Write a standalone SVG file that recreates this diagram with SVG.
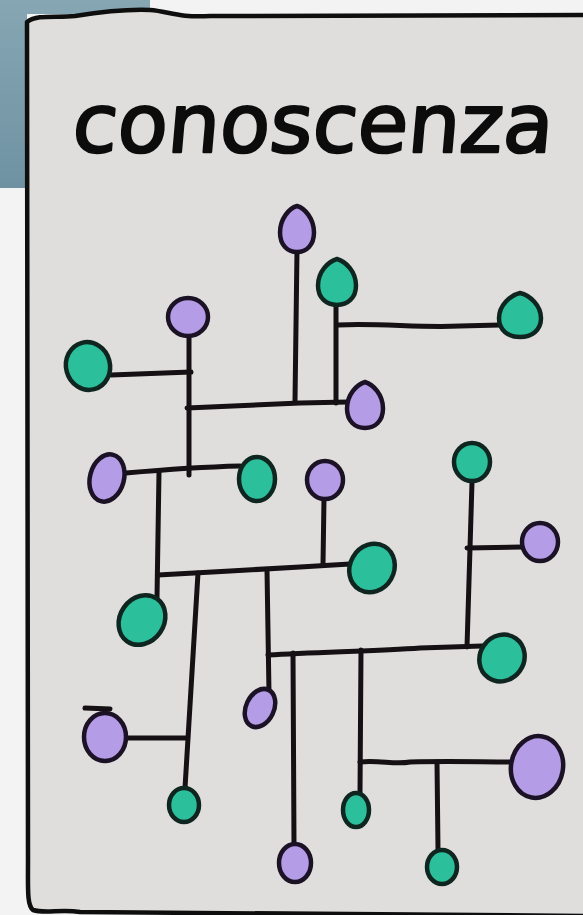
<svg xmlns="http://www.w3.org/2000/svg" width="583" height="915" viewBox="0 0 583 915">
<defs>
<style>
.wire{fill:none;stroke:#141014;stroke-width:5;stroke-linecap:round;stroke-linejoin:round}
.p{fill:#b59ce6;stroke:#1c1226;stroke-width:4.5}
.t{fill:#2bbf9b;stroke:#0f2620;stroke-width:4.5}
.title{font-family:"DejaVu Sans","Liberation Sans",sans-serif;font-size:82px;fill:#0c0c0c;stroke:#0c0c0c;stroke-width:2.4;stroke-linejoin:round}
</style>
<linearGradient id="bg" x1="0" y1="0" x2="0" y2="1">
<stop offset="0" stop-color="#86a6b3"/>
<stop offset="1" stop-color="#6f92a2"/>
</linearGradient>
</defs>
<rect x="0" y="0" width="583" height="915" fill="#f3f3f3"/>
<path d="M0,0 L150,0 L150,14 L27,14 L27,188 L0,188 Z" fill="url(#bg)"/>
<g id="card">
<path d="M27,22 C38,14 55,18 75,16 C100,12 125,9 150,10 C168,11 178,18 210,16 L590,15 L590,916 L80,912 C60,909 45,914 33,910 C27,905 28,890 28,860 L27,22 Z" fill="#e0dedc" stroke="#0e0e0e" stroke-width="4.5" stroke-linejoin="round"/>
</g>
<g id="title">
<text class="title" x="84" y="152" transform="skewX(-5)">conoscenza</text>
</g>
<g id="connectors">
<path class="wire" d="M297,250 L295,401"/>
<path class="wire" d="M336,304 L336,403"/>
<path class="wire" d="M338,325 C380,323 420,328 460,326 L500,325"/>
<path class="wire" d="M187,408 C230,406 270,404 300,403 L348,402"/>
<path class="wire" d="M189,338 L189,475"/>
<path class="wire" d="M111,375 L191,372"/>
<path class="wire" d="M126,473 C160,470 200,467 240,466"/>
<path class="wire" d="M159,472 L157,598"/>
<path class="wire" d="M158,575 C200,573 260,569 300,567 L350,564"/>
<path class="wire" d="M324,498 L323,565"/>
<path class="wire" d="M198,573 L185,788"/>
<path class="wire" d="M128,738 L187,738"/>
<path class="wire" d="M85,708 L110,709"/>
<path class="wire" d="M267,570 L269,693"/>
<path class="wire" d="M268,655 C320,652 380,651 420,648 L482,646"/>
<path class="wire" d="M293,653 L294,844"/>
<path class="wire" d="M361,650 L360,794"/>
<path class="wire" d="M360,762 C380,760 395,765 410,762 C450,761 480,762 512,762"/>
<path class="wire" d="M437,762 L438,849"/>
<path class="wire" d="M472,482 L467,647"/>
<path class="wire" d="M467,548 L522,547"/>
</g>
<g id="p1"><path class="p" d="M297,206 C304.7,208.1 314,218.7 314,232.5 C314,245.1 306.4,252 297,252 C287.6,252 280,245.1 280,232.5 C280,218.7 289.3,208.1 297,206Z"/></g>
<g id="t1"><path class="t" d="M337,259 C345.6,261.3 356,271.7 356,285.5 C356,298.1 347.5,305 337,305 C326.5,305 318,298.1 318,285.5 C318,271.7 328.4,261.3 337,259Z"/></g>
<g id="t2"><path class="t" d="M520,293 C529.5,295.2 541,305.1 541,318.3 C541,330.4 531.6,337 520,337 C508.4,337 499,330.4 499,318.3 C499,305.1 510.5,295.2 520,293Z"/></g>
<g id="p2"><path class="p" d="M365,382 C373.1,384.3 383,394.7 383,408.5 C383,421.1 374.9,428 365,428 C355.1,428 347,421.1 347,408.5 C347,394.7 356.9,384.3 365,382Z"/></g>
<g id="p3"><ellipse class="p" cx="188" cy="317" rx="20" ry="19"/></g>
<g id="t3"><ellipse class="t" cx="88" cy="366" rx="22" ry="24" transform="rotate(-15 88 366)"/></g>
<g id="p4"><ellipse class="p" cx="107" cy="478" rx="17" ry="24" transform="rotate(15 107 478)"/></g>
<g id="t4"><ellipse class="t" cx="257" cy="479" rx="18" ry="22"/></g>
<g id="p5"><ellipse class="p" cx="325" cy="480" rx="18" ry="19"/></g>
<g id="t9"><ellipse class="t" cx="472" cy="462" rx="18" ry="19"/></g>
<g id="t5"><ellipse class="t" cx="142" cy="620" rx="22" ry="26" transform="rotate(35 142 620)"/></g>
<g id="t6"><ellipse class="t" cx="372" cy="568" rx="22" ry="25" transform="rotate(30 372 568)"/></g>
<g id="p9"><ellipse class="p" cx="540" cy="542" rx="18" ry="19"/></g>
<g id="t8"><ellipse class="t" cx="502" cy="658" rx="22" ry="24" transform="rotate(35 502 658)"/></g>
<g id="p7"><ellipse class="p" cx="260" cy="708" rx="14" ry="20" transform="rotate(25 260 708)"/></g>
<g id="p6"><ellipse class="p" cx="105" cy="737" rx="21" ry="24"/></g>
<g id="t7"><ellipse class="t" cx="184" cy="805" rx="15" ry="17"/></g>
<g id="p10"><ellipse class="p" cx="537" cy="767" rx="26" ry="31" transform="rotate(10 537 767)"/></g>
<g id="t10"><ellipse class="t" cx="356" cy="810" rx="13" ry="17"/></g>
<g id="t11"><ellipse class="t" cx="442" cy="867" rx="15" ry="17"/></g>
<g id="p8"><ellipse class="p" cx="295" cy="863" rx="16" ry="19"/></g>
</svg>
